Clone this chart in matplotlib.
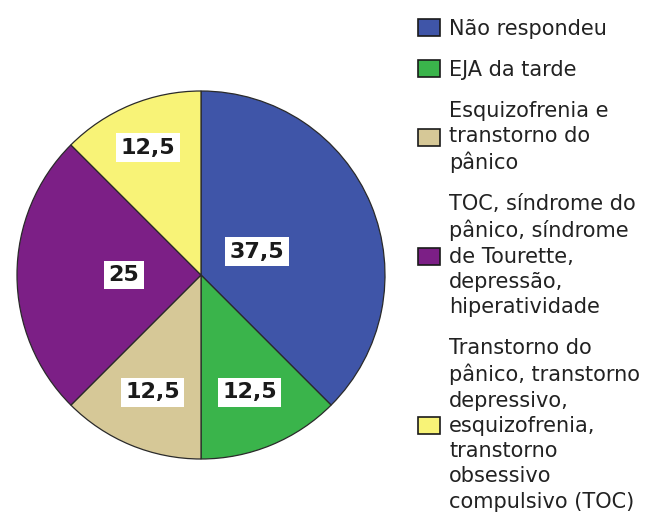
import numpy as np
import matplotlib.pyplot as plt
from matplotlib.patches import Patch

categories = ['Não respondeu',
              'EJA da tarde',
              'Esquizofrenia e\ntranstorno do\npânico',
              'TOC, síndrome do\npânico, síndrome\nde Tourette,\ndepressão,\nhiperatividade',
              'Transtorno do\npânico, transtorno\ndepressivo,\nesquizofrenia,\ntranstorno\nobsessivo\ncompulsivo (TOC)']
values = [37.5, 12.5, 12.5, 25, 12.5]
value_labels = ['37,5', '12,5', '12,5', '25', '12,5']

colors = ['#3F55A8', '#3AB44B', '#D6C897', '#7C1F86', '#F8F377']
label_dist = [0.33, 0.69, 0.69, 0.42, 0.75]

plt.rcParams['font.family'] = 'DejaVu Sans'

fig = plt.figure(figsize=(6.51, 5.27), dpi=100)
ax = fig.add_axes([17 / 651, (527 - 275 - 184) / 527, 368 / 651, 368 / 527])

wedges, _ = ax.pie(values, colors=colors, startangle=90, counterclock=False,
                   wedgeprops=dict(edgecolor='#2a2a2a', linewidth=0.9))
ax.set_xlim(-1, 1)
ax.set_ylim(-1, 1)
ax.set_aspect('equal')

for w, lab, d in zip(wedges, value_labels, label_dist):
    ang = np.deg2rad((w.theta1 + w.theta2) / 2)
    ax.text(d * np.cos(ang), d * np.sin(ang), lab, ha='center', va='center',
            fontsize=16, fontweight='bold', color='#1a1a1a',
            bbox=dict(boxstyle='square,pad=0.2', fc='white', ec='none'))

handles = [Patch(facecolor=c, edgecolor='#1a1a1a', linewidth=1.2) for c in colors]
leg = fig.legend(handles, categories, loc='upper left',
                 bbox_to_anchor=(418 / 651, 1 - 19 / 527),
                 frameon=False, fontsize=15, handlelength=1.05, handleheight=0.9,
                 handletextpad=0.45, labelspacing=1.0, borderpad=0, borderaxespad=0)
for t in leg.get_texts():
    t.set_color('#222222')
    t.set_linespacing(1.33)

fig.savefig('out.png', dpi=100)
